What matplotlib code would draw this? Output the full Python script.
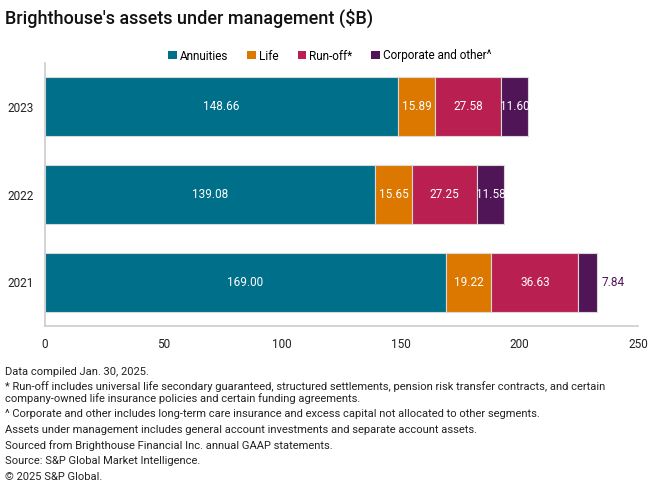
import numpy as np
import matplotlib.pyplot as plt
from matplotlib.patches import Patch

plt.rcParams['font.family'] = ['Roboto', 'DejaVu Sans']

# =====================================================
# DATA
# =====================================================
years = ["2021", "2022", "2023"]
segments = ["Annuities", "Life", "Run-off*", "Corporate and other^"]
annuities = [169.00, 139.08, 148.66]
life = [19.22, 15.65, 15.89]
runoff = [36.63, 27.25, 27.58]
corporate = [7.84, 11.58, 11.60]

colors = ["#006f89", "#dc7700", "#b92051", "#4f1556"]

footnotes = [
    "Data compiled Jan. 30, 2025.",
    "* Run-off includes universal life secondary guaranteed, structured settlements, pension risk transfer contracts, and certain",
    "company-owned life insurance policies and certain funding agreements.",
    "^ Corporate and other includes long-term care insurance and excess capital not allocated to other segments.",
    "Assets under management includes general account investments and separate account assets.",
    "Sourced from Brighthouse Financial Inc. annual GAAP statements.",
    "Source: S&P Global Market Intelligence.",
    "\u00a9 2025 S&P Global.",
]

# =====================================================
# PLOT
# =====================================================
fig = plt.figure(figsize=(6.6, 4.94), dpi=100)
ax = fig.add_axes([45 / 660, 1 - 326 / 494, 593 / 660, 263 / 494])

y = np.arange(len(years))
left = np.zeros(len(years))
series = [annuities, life, runoff, corporate]

for vals, col in zip(series, colors):
    vals = np.array(vals)
    ax.barh(y, vals, left=left, height=0.67, color=col,
            edgecolor="#d9d9d9", linewidth=0.8)
    for i, v in enumerate(vals):
        if v >= 10:
            ax.text(left[i] + v / 2, y[i], f"{v:.2f}", ha="center",
                    va="center", color="white", fontsize=8.5)
        else:
            ax.text(left[i] + v + 2, y[i], f"{v:.2f}", ha="left",
                    va="center", color="#4f1556", fontsize=8.5)
    left += vals

ax.set_xlim(0, 250)
ax.set_ylim(-0.5, 2.5)
ax.set_xticks([0, 50, 100, 150, 200, 250])
ax.set_yticks(y)
ax.set_yticklabels(years)
ax.tick_params(axis="both", length=0, labelsize=8.5, colors="#222222")
ax.tick_params(axis="x", pad=9)
ax.tick_params(axis="y", pad=8)
for s in ["top", "right"]:
    ax.spines[s].set_visible(False)
for s in ["left", "bottom"]:
    ax.spines[s].set_color("#cccccc")
    ax.spines[s].set_linewidth(1.2)

fig.text(5 / 660, 1 - 18 / 494, "Brighthouse's assets under management ($B)",
         fontsize=13, fontweight="medium", va="center", ha="left",
         color="#111111")

handles = [Patch(facecolor=c, edgecolor="none") for c in colors]
fig.legend(handles, segments, loc="center", bbox_to_anchor=(0.5, 1 - 56 / 494),
           ncol=4, frameon=False, fontsize=8.5, handlelength=0.7,
           handleheight=0.7, handletextpad=0.3, columnspacing=1.6)

ypos = [372, 387, 399, 414, 430, 446, 461, 477]
for yp, txt in zip(ypos, footnotes):
    fig.text(5 / 660, 1 - yp / 494, txt, fontsize=8.0, va="center",
             ha="left", color="#222222")

fig.savefig("out.png", dpi=100)
